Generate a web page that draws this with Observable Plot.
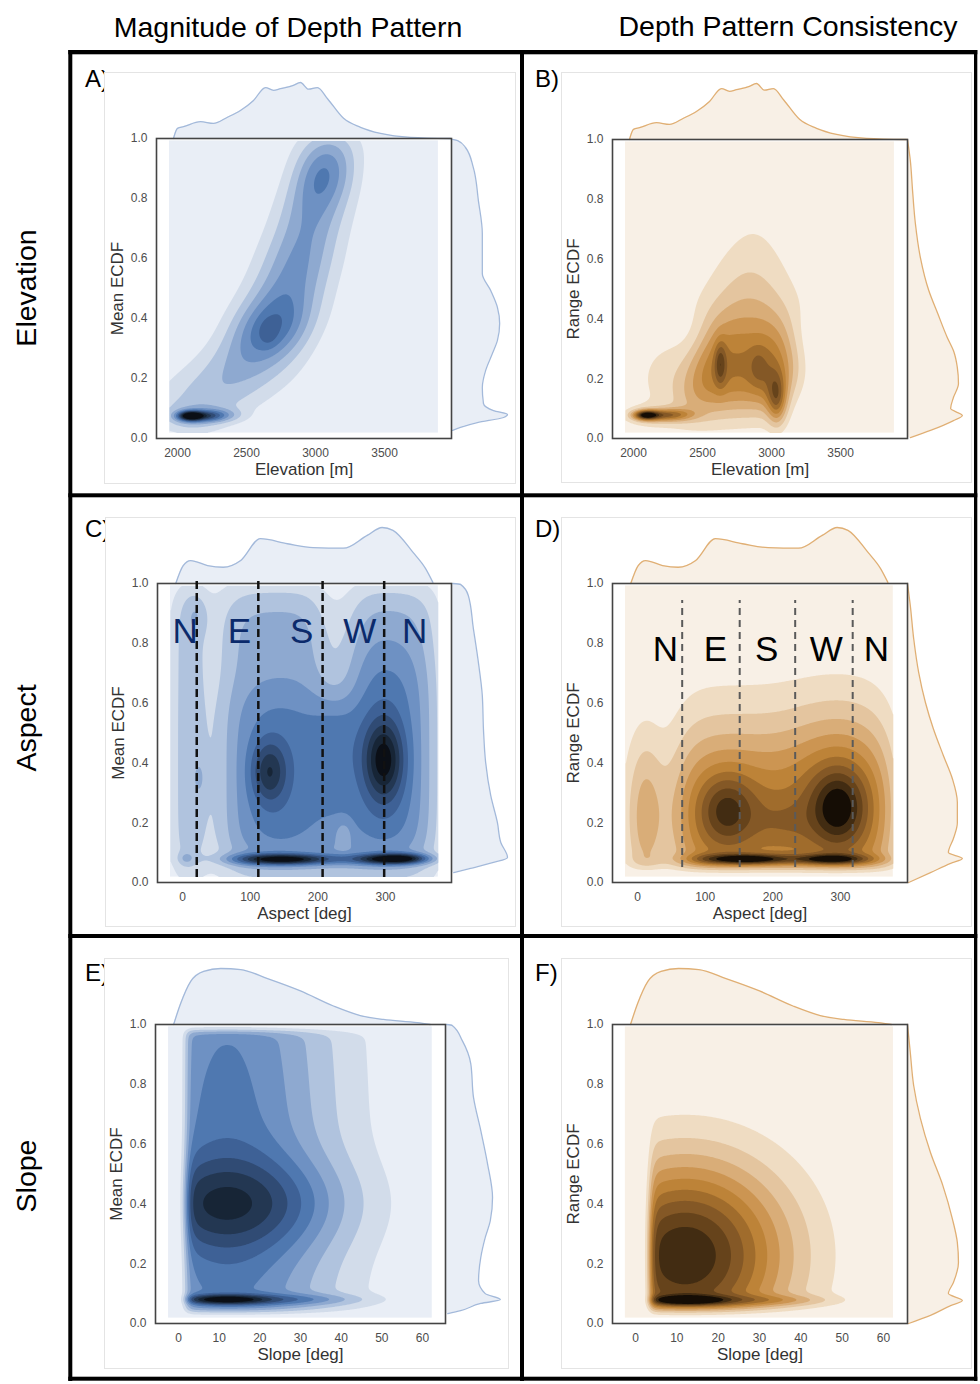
<!DOCTYPE html>
<html><head><meta charset="utf-8">
<script src="https://cdn.jsdelivr.net/npm/d3@7"></script>
<script src="https://cdn.jsdelivr.net/npm/@observablehq/plot@0.6"></script>
<style>
body{margin:0;background:#fff;}
#page{position:relative;width:980px;height:1384px;overflow:hidden;background:#fff;font-family:"Liberation Sans",Arial,Helvetica,sans-serif;}
</style></head><body><div id="page"></div>
<script>
// ---------------- data ----------------
const columnTitles = ["Magnitude of Depth Pattern", "Depth Pattern Consistency"];
const rowTitles = ["Elevation", "Aspect", "Slope"];
const panelLetters = ["A)", "B)", "C)", "D)", "E)", "F)"];

const elevTicks = [2000, 2500, 3000, 3500];
const aspectTicks = [0, 100, 200, 300];
const slopeTicks = [0, 10, 20, 30, 40, 50, 60];
const ecdfTicks = [0, 0.2, 0.4, 0.6, 0.8, 1.0];

// top marginal densities (relative, peak = 1)
const elevMargX = [1971, 2000, 2044, 2167, 2261, 2362, 2456, 2551, 2638, 2696, 2746, 2840, 2891, 2949, 3014, 3087, 3203, 3326, 3471, 3688, 3978];
const elevMargD = [0, 0.18, 0.21, 0.30, 0.27, 0.38, 0.50, 0.68, 0.91, 0.86, 0.89, 0.95, 1.00, 0.88, 0.91, 0.71, 0.36, 0.20, 0.09, 0.02, 0];
const aspectMargX = [-10, 1, 12, 37, 60, 86, 115, 155, 193, 238, 273, 295, 311, 341, 359, 370];
const aspectMargD = [0, 0.32, 0.41, 0.32, 0.29, 0.41, 0.80, 0.71, 0.64, 0.63, 0.86, 1.00, 0.95, 0.55, 0.27, 0.02];
const slopeMargX = [-1.2, 0.5, 3.0, 6.2, 10.4, 15.3, 21.9, 30, 38.1, 44.7, 50.4, 58.7, 61.9];
const slopeMargD = [0, 0.37, 0.77, 0.95, 1.00, 0.98, 0.82, 0.60, 0.33, 0.16, 0.09, 0.035, 0];

// right marginal densities (ECDF value, relative density)
const meanMargAY = [0.027, 0.037, 0.053, 0.07, 0.08, 0.093, 0.117, 0.17, 0.227, 0.283, 0.327, 0.383, 0.437, 0.493, 0.55, 0.683, 0.793, 0.903, 0.97, 0.993, 0.997];
const meanMargAD = [0.02, 0.16, 0.46, 0.93, 1.00, 0.75, 0.57, 0.55, 0.61, 0.73, 0.82, 0.86, 0.82, 0.70, 0.55, 0.55, 0.48, 0.39, 0.25, 0.11, 0.02];
const meanMargCY = [0.033, 0.047, 0.067, 0.084, 0.134, 0.2, 0.291, 0.401, 0.515, 0.625, 0.736, 0.85, 0.96, 0.997, 1.0];
const meanMargCD = [0.04, 0.34, 0.75, 1.00, 0.88, 0.82, 0.70, 0.61, 0.57, 0.55, 0.48, 0.39, 0.30, 0.16, 0.02];
const meanMargEY = [0.033, 0.043, 0.067, 0.08, 0.1, 0.144, 0.221, 0.288, 0.344, 0.421, 0.535, 0.645, 0.756, 0.87, 0.946, 0.997, 1.0];
const meanMargED = [0.04, 0.27, 0.63, 0.98, 0.71, 0.59, 0.63, 0.71, 0.80, 0.84, 0.75, 0.63, 0.50, 0.45, 0.30, 0.12, 0.02];
const rangeMargBY = [0.003, 0.027, 0.06, 0.077, 0.1, 0.137, 0.184, 0.237, 0.294, 0.338, 0.418, 0.495, 0.605, 0.72, 0.83, 0.93, 1.0];
const rangeMargBD = [0.05, 0.41, 0.82, 0.98, 0.77, 0.82, 0.91, 0.89, 0.82, 0.71, 0.54, 0.38, 0.23, 0.14, 0.09, 0.05, 0];
const rangeMargDY = [0, 0.033, 0.064, 0.08, 0.1, 0.147, 0.2, 0.268, 0.348, 0.425, 0.515, 0.602, 0.702, 0.816, 0.926, 1.0];
const rangeMargDD = [0.02, 0.41, 0.77, 0.98, 0.73, 0.82, 0.89, 0.89, 0.80, 0.64, 0.46, 0.32, 0.20, 0.11, 0.05, 0];
const rangeMargFY = [0, 0.027, 0.06, 0.077, 0.1, 0.137, 0.204, 0.271, 0.351, 0.462, 0.572, 0.686, 0.796, 0.906, 1.0];
const rangeMargFD = [0.02, 0.41, 0.77, 0.98, 0.73, 0.82, 0.91, 0.89, 0.80, 0.63, 0.41, 0.23, 0.11, 0.05, 0];

// KDE grid extents
const gridXElev = [1942, 3890];
const gridXAspect = [-17.8, 378];
const gridXSlope = [-2.45, 62.4];
const gridYEcdf = [0.018, 0.992];

// joint density components:
// blobs: [x, y, sx, sy, level, xPower, yPower]; ridges: [y, x, sx, level, xPower] (vertical chains, step 0.05)
const blobsA = [
  [2090, 0.075, 60, 0.011, 8.5], [2200, 0.075, 95, 0.013, 4.0], [2320, 0.078, 110, 0.016, 1.8],
  [2100, 0.07, 140, 0.03, 1.5], [2660, 0.35, 45, 0.03, 0.8]
];
const ridgeA = [
  [0.05, 2080, 220, 1.5], [0.10, 2160, 260, 2.8], [0.15, 2270, 280, 3.1], [0.20, 2400, 280, 3.3],
  [0.25, 2500, 245, 3.9], [0.30, 2590, 215, 5.2], [0.35, 2660, 195, 7.2], [0.40, 2715, 200, 6.8],
  [0.45, 2765, 200, 5.3], [0.50, 2805, 200, 4.7], [0.55, 2845, 195, 4.5], [0.60, 2880, 195, 4.4],
  [0.65, 2910, 190, 4.2], [0.70, 2945, 185, 4.1], [0.75, 2975, 180, 4.3], [0.80, 3005, 170, 4.8],
  [0.85, 3040, 160, 5.8], [0.90, 3065, 155, 5.6], [0.95, 3090, 160, 4.2], [1.00, 3120, 170, 2.5]
];
const blobsB = [
  [2090, 0.078, 60, 0.011, 8.0], [2210, 0.078, 110, 0.014, 4.5], [2340, 0.08, 100, 0.016, 1.8],
  [2100, 0.075, 150, 0.028, 1.2], [2300, 0.2, 200, 0.1, 1.6],
  [2630, 0.25, 30, 0.05, 2.9], [2900, 0.24, 45, 0.045, 1.0], [3040, 0.13, 50, 0.06, 4.5], [2960, 0.2, 80, 0.07, 0.8]
];
const ridgeB = [
  [0.05, 2650, 340, 1.0, 2], [0.10, 2700, 330, 3.0, 4], [0.15, 2760, 330, 5.0, 4], [0.20, 2800, 330, 6.2, 4],
  [0.25, 2810, 320, 6.4, 4], [0.30, 2820, 300, 6.0, 4], [0.35, 2830, 280, 5.0, 4], [0.40, 2830, 270, 4.0, 3],
  [0.45, 2835, 255, 3.2, 2], [0.50, 2840, 240, 2.5, 2], [0.55, 2845, 225, 2.0, 2], [0.60, 2850, 210, 1.6, 2],
  [0.65, 2860, 190, 1.25, 2], [0.70, 2870, 160, 0.9, 2], [0.75, 2870, 120, 0.5, 2]
];
const blobsC = [
  [10, 0.5, 22, 0.46, 2.6, 2, 8], [22, 0.9, 12, 0.05, 1.0], [28, 0.35, 8, 0.06, 0.8], [5, 0.08, 8, 0.015, 1.2],
  [215, 0.5, 150, 0.46, 3.6, 8, 8], [228, 0.8, 25, 0.18, -1.8, 2, 4], [238, 0.16, 8, 0.03, -1.4],
  [145, 0.35, 55, 0.25, 2.0, 2, 4], [128, 0.37, 18, 0.07, 3.6],
  [300, 0.42, 45, 0.3, 2.2, 2, 4], [297, 0.41, 20, 0.09, 5.0], [222, 0.44, 25, 0.13, 1.0],
  [150, 0.077, 40, 0.012, 6.0], [300, 0.078, 30, 0.012, 5.0], [330, 0.08, 25, 0.012, 4.0],
  [230, 0.078, 100, 0.014, 2.0], [100, 0.078, 30, 0.015, 1.5]
];
const blobsD = [
  [12, 0.22, 22, 0.2, 3.5], [215, 0.2, 150, 0.25, 5.0, 8, 2],
  [132, 0.24, 28, 0.08, 3.2], [135, 0.26, 55, 0.16, 1.5],
  [296, 0.25, 28, 0.09, 4.2], [296, 0.32, 55, 0.19, 2.2], [215, 0.2, 30, 0.06, 1.0],
  [160, 0.077, 40, 0.012, 6.0], [288, 0.077, 35, 0.012, 5.0], [225, 0.077, 110, 0.014, 1.5], [100, 0.077, 20, 0.014, 1.0]
];
const blobsE = [
  [12, 0.5, 19, 1.0, 5.5], [12, 0.40, 19, 0.11, 4.0],
  [11, 0.08, 7, 0.011, 5.5], [22, 0.08, 12, 0.013, 2.0], [35, 0.08, 10, 0.014, 1.0]
];
const blobsF = [
  [12, 0.227, 17, 0.22, 9.9],
  [12, 0.077, 6, 0.011, 5.0], [24, 0.077, 12, 0.013, 2.0], [38, 0.077, 8, 0.013, 1.0]
];
// physical bounds: [xLow, width, yLow, width, yHigh, width]
const boundsE = [1.8, 0.7, 0.04, 0.008, 0.98, 0.008];
const boundsF = [3.5, 0.6, 0.045, 0.01, null, null];
const boundsD = [null, null, 0.045, 0.01, null, null];

// compass annotations
const compassLabels = ["N", "E", "S", "W", "N"];
const compassXC = [4, 84, 176, 262, 343];
const compassYC = 0.80;
const compassXD = [41, 115, 191, 279, 353];
const compassYD = 0.74;
const dashXC = [21, 112, 207, 298];
const dashYC = [0.017, 1.02];
const dashXD = [66, 151, 233, 318];
const dashYD = [0.05, 0.943];

// ---------------- styling ----------------
const bluePal = ["#e9eef6", "#d2dcea", "#b0c3de", "#8ea9d0", "#6e91c3", "#4f78b0", "#3e6196", "#304b74", "#233752", "#172536", "#0b0f16"];
const orangePal = ["#f8f0e6", "#efdcc2", "#e4c59f", "#d9ad78", "#cc9552", "#bd8338", "#a06c2c", "#845826", "#66431b", "#422c12", "#150d05"];
const blueLine = "#a3b9da", orangeLine = "#e0af74";
const LEVELS = [1, 2, 3, 4, 5, 6, 7, 8, 9, 10];
const FONT = "Liberation Sans, Arial, Helvetica, sans-serif";
const RIDGE_DY = 0.05;

function densityFn(blobs, ridge, bounds) {
  const comps = [];
  for (const [x, y, sx, sy, w, px = 2, py = 2] of blobs) comps.push([x, y, sx, sy, w, px, py]);
  for (const [y, x, sx, w, px = 2] of (ridge || [])) comps.push([x, y, sx, RIDGE_DY, w / Math.sqrt(2 * Math.PI), px, 2]);
  return (X, Y) => {
    let s = 0;
    for (const [x, y, sx, sy, w, px, py] of comps) {
      const u = Math.abs(X - x) / sx, v = Math.abs(Y - y) / sy;
      const e = 0.5 * (Math.pow(u, px) + Math.pow(v, py));
      if (e < 40) s += w * Math.exp(-e);
    }
    if (bounds) {
      const [xl, xlw, yl, ylw, yh, yhw] = bounds;
      if (xl != null) s /= 1 + Math.exp(-(X - xl) / xlw);
      if (yl != null) s /= 1 + Math.exp(-(Y - yl) / ylw);
      if (yh != null) s /= 1 + Math.exp((Y - yh) / yhw);
    }
    return Math.max(0, s);
  };
}

const panels = [
  {frame: [156, 138, 451, 438], fig: [104, 72, 516, 484], xDomain: [1848, 3985], xTicks: elevTicks, xLabel: "Elevation [m]", yLabel: "Mean ECDF",
   blobs: blobsA, ridge: ridgeA, bounds: null, gridX: gridXElev, top: [elevMargX, elevMargD], right: [meanMargAY, meanMargAD], pal: bluePal, line: blueLine},
  {frame: [612, 139, 907, 438], fig: [561, 72, 972, 483], xDomain: [1848, 3985], xTicks: elevTicks, xLabel: "Elevation [m]", yLabel: "Range ECDF",
   blobs: blobsB, ridge: ridgeB, bounds: null, gridX: gridXElev, top: [elevMargX, elevMargD], right: [rangeMargBY, rangeMargBD], pal: orangePal, line: orangeLine},
  {frame: [157, 583, 451, 882], fig: [105, 517, 516, 927], xDomain: [-37, 397.5], xTicks: aspectTicks, xLabel: "Aspect [deg]", yLabel: "Mean ECDF",
   blobs: blobsC, ridge: null, bounds: null, gridX: gridXAspect, top: [aspectMargX, aspectMargD], right: [meanMargCY, meanMargCD], pal: bluePal, line: blueLine,
   compass: {x: compassXC, y: compassYC, color: "#0b2a6b", dashX: dashXC, dashY: dashYC, dashColor: "#111", dash: "8,4", dashW: 2.5}},
  {frame: [612, 583, 907, 882], fig: [561, 517, 972, 927], xDomain: [-37, 399], xTicks: aspectTicks, xLabel: "Aspect [deg]", yLabel: "Range ECDF",
   blobs: blobsD, ridge: null, bounds: boundsD, gridX: gridXAspect, top: [aspectMargX, aspectMargD], right: [rangeMargDY, rangeMargDD], pal: orangePal, line: orangeLine,
   compass: {x: compassXD, y: compassYD, color: "#000", dashX: dashXD, dashY: dashYD, dashColor: "#5a5a5a", dash: "7,5", dashW: 2}},
  {frame: [155, 1024, 445, 1323], fig: [104, 958, 509, 1369], xDomain: [-5.66, 65.66], xTicks: slopeTicks, xLabel: "Slope [deg]", yLabel: "Mean ECDF",
   blobs: blobsE, ridge: null, bounds: boundsE, gridX: gridXSlope, top: [slopeMargX, slopeMargD], right: [meanMargEY, meanMargED], pal: bluePal, line: blueLine},
  {frame: [612, 1024, 907, 1323], fig: [561, 958, 972, 1369], xDomain: [-5.56, 65.8], xTicks: slopeTicks, xLabel: "Slope [deg]", yLabel: "Range ECDF",
   blobs: blobsF, ridge: null, bounds: boundsF, gridX: gridXSlope, top: [slopeMargX, slopeMargD], right: [rangeMargFY, rangeMargFD], pal: orangePal, line: orangeLine}
];

const page = document.getElementById("page");
function place(el, left, top, z) {
  el.style.position = "absolute"; el.style.left = left + "px"; el.style.top = top + "px"; el.style.zIndex = z;
  page.appendChild(el);
}

// letters layer (underneath the pasted figures)
const letterSvg = d3.create("svg").attr("width", 980).attr("height", 1384);
const letterPos = [[85, 87], [535, 87], [85, 537], [535, 537], [85, 981], [535, 981]];
panelLetters.forEach((t, i) => {
  letterSvg.append("text").attr("x", letterPos[i][0]).attr("y", letterPos[i][1])
    .attr("font-family", FONT).attr("font-size", 24).attr("fill", "#000").text(t);
});
place(letterSvg.node(), 0, 0, 0);

const mL = 60, mR = 10, mT = 10, mB = 50, MARG = 66;
const margScale = MARG / 56;

panels.forEach((p) => {
  const [fl, ft, fr, fb] = p.frame;
  const fw = fr - fl, fh = fb - ft;
  const fig = document.createElement("div");
  fig.style.width = (p.fig[2] - p.fig[0]) + "px"; fig.style.height = (p.fig[3] - p.fig[1]) + "px";
  fig.style.background = "#fff"; fig.style.boxSizing = "border-box"; fig.style.border = "1px solid #e4e4e4";
  place(fig, p.fig[0], p.fig[1], 1);

  const style = {background: "transparent", fontFamily: FONT, overflow: "visible"};
  const [tx, td] = p.top;
  const topPlot = Plot.plot({
    width: fw + mL + mR, height: MARG, marginLeft: mL, marginRight: mR, marginTop: 0, marginBottom: 0,
    x: {domain: p.xDomain, axis: null}, y: {domain: [0, margScale], axis: null}, style,
    marks: [
      Plot.areaY(tx, {x: d => d, y: (d, i) => td[i], curve: "monotone-x", fill: p.pal[0]}),
      Plot.lineY(tx, {x: d => d, y: (d, i) => td[i], curve: "monotone-x", stroke: p.line, strokeWidth: 1.3})
    ]
  });
  place(topPlot, fl - mL, ft - MARG, 2);
  const [ry, rd] = p.right;
  const rightPlot = Plot.plot({
    width: MARG, height: fh + mT + mB, marginLeft: 0, marginRight: 0, marginTop: mT, marginBottom: mB,
    x: {domain: [0, margScale], axis: null}, y: {domain: [0, 1], axis: null}, style,
    marks: [
      Plot.areaX(ry, {y: d => d, x: (d, i) => rd[i], curve: "monotone-y", fill: p.pal[0]}),
      Plot.lineX(ry, {y: d => d, x: (d, i) => rd[i], curve: "monotone-y", stroke: p.line, strokeWidth: 1.3})
    ]
  });
  place(rightPlot, fr, ft - mT, 2);

  const f = densityFn(p.blobs, p.ridge, p.bounds);
  const grid = [{x1: p.gridX[0], x2: p.gridX[1], y1: gridYEcdf[0], y2: gridYEcdf[1]}];
  const marks = [
    Plot.rect(grid, {x1: "x1", x2: "x2", y1: "y1", y2: "y2", fill: p.pal[0]}),
    Plot.contour({fill: f, x1: p.gridX[0], x2: p.gridX[1], y1: gridYEcdf[0], y2: gridYEcdf[1], thresholds: LEVELS, pixelSize: 1}),
    Plot.frame({stroke: "#444", strokeWidth: 1.6}),
    Plot.axisX({ticks: p.xTicks, tickSize: 0, tickPadding: 10, fontSize: 12, color: "#4d4d4d", tickFormat: d3.format("d"), label: null}),
    Plot.axisY({ticks: ecdfTicks, tickSize: 0, tickPadding: 9, fontSize: 12, color: "#4d4d4d", tickFormat: d3.format(".1f"), label: null}),
    Plot.text([p.xLabel], {text: d => d, frameAnchor: "bottom", lineAnchor: "middle", textAnchor: "middle", dy: 31, fontSize: 17, fill: "#333"}),
    Plot.text([p.yLabel], {text: d => d, frameAnchor: "left", lineAnchor: "middle", textAnchor: "middle", dx: -39, rotate: -90, fontSize: 17, fill: "#333"})
  ];
  if (p.compass) {
    const c = p.compass;
    marks.push(Plot.ruleX(c.dashX, {x: d => d, y1: () => c.dashY[0], y2: () => c.dashY[1], stroke: c.dashColor, strokeWidth: c.dashW, strokeDasharray: c.dash}));
    marks.push(Plot.text(compassLabels, {x: (d, i) => c.x[i], y: () => c.y, text: d => d, fill: c.color, fontSize: 35, lineAnchor: "bottom"}));
  }
  const main = Plot.plot({
    width: fw + mL + mR, height: fh + mT + mB, marginLeft: mL, marginRight: mR, marginTop: mT, marginBottom: mB,
    x: {domain: p.xDomain}, y: {domain: [0, 1]},
    color: {type: "threshold", domain: LEVELS.slice(1), range: p.pal.slice(1)},
    style, marks
  });
  place(main, fl - mL, ft - mT, 3);
});

const ov = d3.create("svg").attr("width", 980).attr("height", 1384).style("pointer-events", "none");
ov.append("text").attr("x", 288).attr("y", 37).attr("text-anchor", "middle").attr("font-family", FONT).attr("font-size", 28.5).text(columnTitles[0]);
ov.append("text").attr("x", 788).attr("y", 36).attr("text-anchor", "middle").attr("font-family", FONT).attr("font-size", 28.5).text(columnTitles[1]);
const rowCenters = [288, 728, 1176];
rowTitles.forEach((t, i) => {
  ov.append("text").attr("transform", `translate(36,${rowCenters[i]}) rotate(-90)`).attr("text-anchor", "middle")
    .attr("font-family", FONT).attr("font-size", 28.5).text(t);
});
const vLines = [[68.3, 4], [520, 4], [974, 3.3]];
vLines.forEach(([x, w]) => ov.append("rect").attr("x", x).attr("y", 50).attr("width", w).attr("height", 1331).attr("fill", "#000"));
const hLines = [[50, 4.3], [493.3, 4], [934, 4], [1376.7, 4]];
hLines.forEach(([y, h]) => ov.append("rect").attr("x", 68.3).attr("y", y).attr("width", 909).attr("height", h).attr("fill", "#000"));
place(ov.node(), 0, 0, 5);
</script></body></html>
